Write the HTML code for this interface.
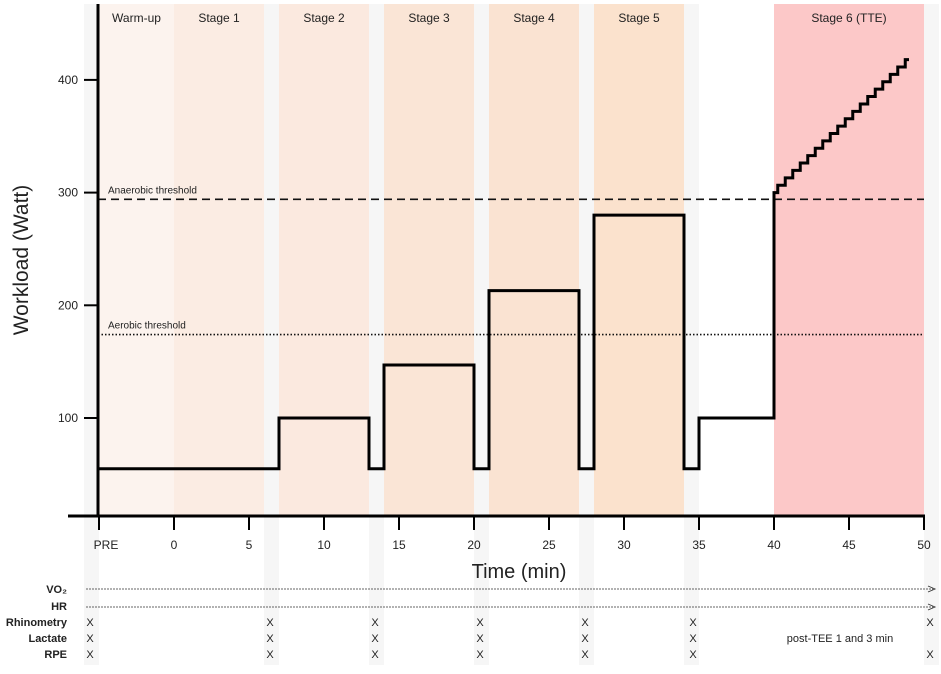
<!DOCTYPE html>
<html><head><meta charset="utf-8"><style>
html,body{margin:0;padding:0;background:#fff;}
svg text{font-family:"Liberation Sans",sans-serif;fill:#222;}
</style></head><body>
<svg width="941" height="669" viewBox="0 0 941 669">
<g id="bands"></g>
<g id="grid"></g>
<g id="series"></g>
<g id="axes"></g>
<g id="table"></g>
</svg>
<script>
const stageNames=["Warm-up","Stage 1","Stage 2","Stage 3","Stage 4","Stage 5","Stage 6 (TTE)"];
const stageStarts=[-5,0,7,14,21,28,40];
const stageEnds=[0,6,13,20,27,34,50];
const stageColors=["#fcf3ee","#fbece3","#fbe9df","#fae5d6","#fae3d2","#fbe2cd","#fcc8c8"];
const gapStarts=[-6,6,13,20,27,34,50];
const gapEnds=[-5,7,14,21,28,35,51];
const xTickValues=[-5,0,5,10,15,20,25,30,35,40,45,50];
const xTickLabels=["PRE","0","5","10","15","20","25","30","35","40","45","50"];
const yTicks=[100,200,300,400];
const stepTimes=[-5,7,13,14,20,21,27,28,34,35,40];
const stepWatts=[55,100,55,147,55,213,55,280,55,100,300];
const rampStart=40, rampEnd=49, rampStepMin=0.5, rampStart_W=300, rampEnd_W=418;
const anaerobic=294, aerobic=174;
const rowLabels=["VO\u2082","HR","Rhinometry","Lactate","RPE"];
const markTimes=[-5.6,6.4,13.4,20.4,27.4,34.6,50.4];

const X=t=>174+15*t;
const Y=v=>418-(v-100)*1.127;
const NS="http://www.w3.org/2000/svg";
function mk(parent,tag,attrs){const e=document.createElementNS(NS,tag);for(const k in attrs)e.setAttribute(k,attrs[k]);document.getElementById(parent).appendChild(e);return e;}

// bands
for(let i=0;i<gapStarts.length;i++){
 const r=mk('bands','rect',{x:X(gapStarts[i]),y:4,width:X(gapEnds[i])-X(gapStarts[i]),height:661,fill:"#f6f6f6"});
 
 
}
for(let i=0;i<stageNames.length;i++){
 const r=mk('bands','rect',{x:X(stageStarts[i]),y:4,width:X(stageEnds[i])-X(stageStarts[i]),height:512,fill:stageColors[i]});
 
 
 const t=mk('bands','text',{x:(X(stageStarts[i])+X(stageEnds[i]))/2,y:22,'text-anchor':'middle','font-size':12});
 t.textContent=stageNames[i];
 
 
}
// thresholds
let l=mk('grid','line',{x1:98,x2:924,y1:Y(anaerobic),y2:Y(anaerobic),stroke:"#111","stroke-width":1.6,"stroke-dasharray":"8,5"});


l=mk('grid','line',{x1:98,x2:924,y1:Y(aerobic),y2:Y(aerobic),stroke:"#111","stroke-width":1.6,"stroke-dasharray":"1.5,2"});


let t=mk('grid','text',{x:108,y:Y(anaerobic)-6,'font-size':10});t.textContent="Anaerobic threshold";


t=mk('grid','text',{x:108,y:Y(aerobic)-6,'font-size':10});t.textContent="Aerobic threshold";



// workload path
let d=`M${X(stepTimes[0])},${Y(stepWatts[0])}`;
for(let i=1;i<stepTimes.length;i++){d+=` H${X(stepTimes[i])} V${Y(stepWatts[i])}`;}
const n=Math.round((rampEnd-rampStart)/rampStepMin);
for(let i=1;i<=n;i++){const w=rampStart_W+(rampEnd_W-rampStart_W)*i/n;d+=` H${X(rampStart+rampStepMin*(i-0.5))} V${Y(w)}`;}
d+=` H${X(rampEnd)}`;
const p=mk('series','path',{d:d,fill:"none",stroke:"#000","stroke-width":3});



// axes
l=mk('axes','line',{x1:98,x2:98,y1:4,y2:517,stroke:"#000","stroke-width":3});


l=mk('axes','line',{x1:68,x2:925,y1:516,y2:516,stroke:"#000","stroke-width":3});


yTicks.forEach(v=>{
 const tk=mk('axes','line',{x1:84,x2:98,y1:Y(v),y2:Y(v),stroke:"#000","stroke-width":2});
 
 
 const tx=mk('axes','text',{x:78,y:Y(v)+4,'text-anchor':'end','font-size':12});tx.textContent=v;
 
 
});
xTickValues.forEach((v,i)=>{
 const tk=mk('axes','line',{x1:X(v),x2:X(v),y1:516,y2:530,stroke:"#000","stroke-width":2});
 
 
 const tx=mk('axes','text',{x:X(v)+(i==0?7:0),y:549,'text-anchor':'middle','font-size':12});tx.textContent=xTickLabels[i];
 
 
});
t=mk('axes','text',{x:519,y:578,'text-anchor':'middle','font-size':20});t.textContent="Time (min)";


t=mk('axes','text',{x:0,y:0,'text-anchor':'middle','font-size':21,transform:"translate(28,260) rotate(-90)"});t.textContent="Workload (Watt)";



// table
const rowY=[593,610,626,642,658];
rowLabels.forEach((s,i)=>{
 const tx=mk('table','text',{x:67,y:rowY[i],'text-anchor':'end','font-size':11,'font-weight':'bold'});tx.textContent=s;
 
 
});
[589,607].forEach(y=>{
 const a=mk('table','line',{x1:86,x2:933,y1:y,y2:y,stroke:"#333","stroke-width":0.8,"stroke-dasharray":"2,1"});
 
 
 const h=mk('table','path',{d:`M928,${y-3} L935,${y} L928,${y+3}`,fill:"none",stroke:"#333","stroke-width":0.9});
 
 
});
[2,3,4].forEach(r=>{
 markTimes.forEach((m,j)=>{
  if(r==3&&j==markTimes.length-1)return;
  const tx=mk('table','text',{x:X(m),y:rowY[r],'text-anchor':'middle','font-size':11});tx.textContent="X";
  
  
 });
});
t=mk('table','text',{x:840,y:642,'text-anchor':'middle','font-size':11});t.textContent="post-TEE 1 and 3 min";


</script>
</body></html>
